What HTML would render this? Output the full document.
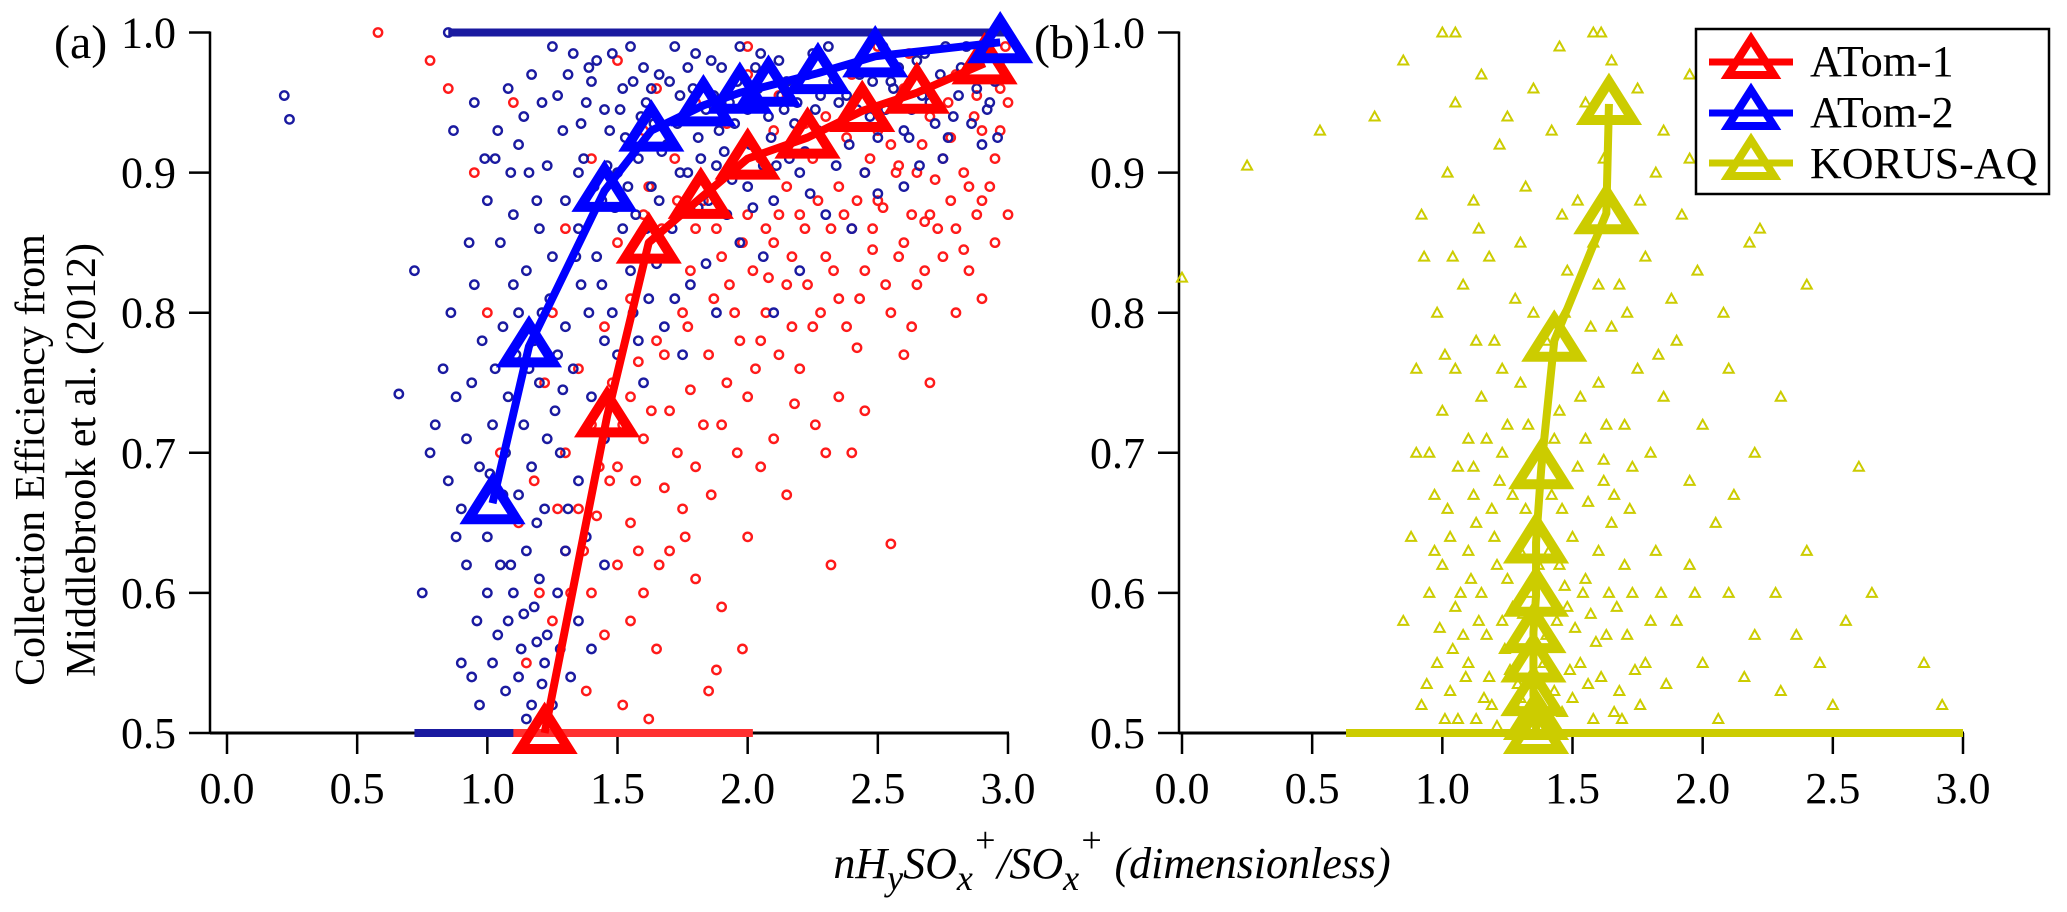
<!DOCTYPE html>
<html><head><meta charset="utf-8"><style>
html,body{margin:0;padding:0;background:#fff;}
svg{display:block;}
text{font-family:"Liberation Serif","DejaVu Serif",serif;fill:#000;}
</style></head><body>
<svg id="chart" width="2067" height="912" viewBox="0 0 2067 912" xmlns="http://www.w3.org/2000/svg" font-family="Liberation Serif, DejaVu Serif, serif">
<g id="pa"></g>
<g id="pb"></g>
<text x="54" y="58" font-size="48" font-family="Liberation Serif, serif">(a)</text>
<text x="1034" y="58" font-size="48" font-family="Liberation Serif, serif">(b)</text>
<g font-family="Liberation Serif, serif">
<text x="31" y="460" font-size="42" text-anchor="middle" dominant-baseline="central" transform="rotate(-90 31 460)">Collection Efficiency from</text>
<text x="82" y="460" font-size="42" text-anchor="middle" dominant-baseline="central" transform="rotate(-90 82 460)">Middlebrook et al. (2012)</text>
</g>
<text x="1112" y="878" font-size="44" font-style="italic" text-anchor="middle" font-family="Liberation Serif, serif">nH<tspan baseline-shift="-12" font-size="36">y</tspan>SO<tspan baseline-shift="-12" font-size="36">x</tspan><tspan baseline-shift="26" font-size="36">+</tspan>/SO<tspan baseline-shift="-12" font-size="36">x</tspan><tspan baseline-shift="26" font-size="36">+</tspan> (dimensionless)</text>
<g font-family="Liberation Serif, serif">
<rect x="1696" y="29" width="353" height="165" fill="#fff" stroke="#000" stroke-width="2.5"/>
<g><line x1="1709" y1="62" x2="1793" y2="62" stroke="#ff0000" stroke-width="7"/><path d="M1751,39 L1774,75 L1728,75 Z" fill="none" stroke="#ff0000" stroke-width="8"/><text x="1810" y="76" font-size="44">ATom-1</text></g>
<g><line x1="1709" y1="113" x2="1793" y2="113" stroke="#0000ff" stroke-width="7"/><path d="M1751,90 L1774,126 L1728,126 Z" fill="none" stroke="#0000ff" stroke-width="8"/><text x="1810" y="127" font-size="44">ATom-2</text></g>
<g><line x1="1709" y1="163" x2="1793" y2="163" stroke="#cccc00" stroke-width="7"/><path d="M1751,140 L1774,176 L1728,176 Z" fill="none" stroke="#cccc00" stroke-width="8"/><text x="1810" y="178" font-size="44">KORUS-AQ</text></g>
</g>
</svg>
<script>
// ---- data ----
const xTicks = [0, 0.5, 1, 1.5, 2, 2.5, 3];
const xTickLabels = ["0.0","0.5","1.0","1.5","2.0","2.5","3.0"];
const yTicks = [0.5, 0.6, 0.7, 0.8, 0.9, 1.0];
const yTickLabels = ["0.5","0.6","0.7","0.8","0.9","1.0"];

const atom1MeanX = [1.22,1.46,1.62,1.82,2.0,2.23,2.44,2.65,2.91];
const atom1MeanY = [0.50,0.726,0.85,0.882,0.91,0.925,0.944,0.957,0.978];
const atom2MeanX = [1.02,1.16,1.45,1.63,1.83,1.97,2.08,2.27,2.49,2.97];
const atom2MeanY = [0.664,0.776,0.887,0.93,0.948,0.957,0.962,0.971,0.983,0.993];
const korusMeanX = [1.36,1.36,1.35,1.35,1.35,1.36,1.36,1.38,1.43,1.63,1.64];
const korusMeanY = [0.50,0.51,0.527,0.551,0.572,0.598,0.636,0.689,0.78,0.871,0.949];

const atom2Points = "1.25,0.99 1.31,0.97 1.38,0.95 1.42,0.98 1.47,0.93 1.52,0.96 1.55,0.99 1.58,0.91 1.61,0.95 1.66,0.97 1.69,0.92 1.72,0.99 1.75,0.94 1.79,0.96 1.82,0.91 1.86,0.98 1.89,0.93 1.93,0.95 1.97,0.99 2.01,0.92 2.04,0.96 2.08,0.94 2.12,0.98 2.16,0.91 2.19,0.95 2.23,0.97 2.27,0.93 2.31,0.99 2.35,0.95 2.39,0.92 2.43,0.97 2.47,0.94 2.52,0.99 2.56,0.96 2.6,0.93 2.65,0.98 2.7,0.95 2.74,0.97 2.79,0.94 2.84,0.99 2.88,0.96 2.93,0.95 2.97,0.98 1.29,0.93 1.35,0.9 1.44,0.88 1.5,0.9 1.57,0.87 1.63,0.89 1.71,0.86 1.77,0.9 1.85,0.88 1.92,0.87 2.0,0.89 2.1,0.88 2.2,0.9 2.3,0.87 2.45,0.9 2.6,0.89 2.75,0.91 2.9,0.92 1.4,0.965 1.48,0.985 1.6,0.975 1.7,0.965 1.8,0.985 1.9,0.975 2.05,0.985 2.15,0.965 2.25,0.985 2.4,0.975 2.55,0.965 2.68,0.985 2.82,0.975 2.95,0.965 1.33,0.985 1.45,0.945 1.53,0.925 1.64,0.935 1.74,0.955 1.84,0.945 1.95,0.935 2.06,0.905 2.14,0.945 2.28,0.955 2.37,0.935 2.5,0.925 2.63,0.945 2.77,0.925 2.9,0.985 1.21,0.95 1.17,0.97 1.12,0.92 1.08,0.96 1.0,0.88 1.05,0.85 1.1,0.87 1.15,0.83 1.2,0.86 1.25,0.84 1.3,0.88 1.12,0.8 1.18,0.78 1.24,0.81 1.3,0.79 1.36,0.82 1.42,0.84 1.48,0.8 1.55,0.83 1.62,0.81 1.7,0.84 1.78,0.82 1.88,0.8 0.95,0.82 0.98,0.78 1.03,0.76 1.08,0.74 1.14,0.72 1.2,0.75 1.26,0.73 1.33,0.76 1.4,0.74 1.5,0.77 1.6,0.75 0.88,0.74 0.92,0.71 0.97,0.69 1.02,0.72 1.07,0.7 1.12,0.67 1.17,0.69 1.22,0.66 1.28,0.7 1.35,0.68 1.45,0.71 0.85,0.68 0.9,0.66 0.8,0.72 0.83,0.76 0.78,0.7 0.86,0.8 0.93,0.85 1.35,0.86 1.45,0.78 1.52,0.86 1.58,0.78 1.68,0.79 1.75,0.77 2.2,0.83 2.4,0.86 2.1,0.8 1.0,0.64 1.05,0.62 1.1,0.6 1.15,0.63 1.2,0.61 1.08,0.58 1.13,0.56 1.18,0.59 1.23,0.57 1.0,0.6 0.96,0.58 1.02,0.55 1.07,0.53 1.12,0.54 1.17,0.52 1.22,0.55 1.27,0.6 1.3,0.63 1.35,0.58 0.92,0.62 0.88,0.64 0.97,0.52 1.15,0.51 1.25,0.52 1.4,0.56 0.75,0.6 0.9,0.55 1.32,0.54 1.38,0.64 1.45,0.62 0.22,0.955 0.24,0.938 0.66,0.742 0.72,0.83 0.85,1.0 0.87,0.93 0.95,0.95 1.03,0.91 1.06,0.67 1.11,0.77 1.16,0.9 1.19,0.65 1.27,0.77 1.31,0.66 1.27,0.955 1.36,0.935 1.39,0.975 1.46,0.905 1.51,0.945 1.56,0.965 1.59,0.94 1.63,0.96 1.67,0.915 1.73,0.935 1.77,0.975 1.81,0.925 1.87,0.955 1.91,0.915 1.96,0.965 2.0,0.945 2.03,0.975 2.09,0.925 2.13,0.955 2.18,0.935 2.22,0.915 2.26,0.945 2.33,0.965 2.38,0.955 2.42,0.945 2.48,0.965 2.53,0.945 2.58,0.975 2.62,0.925 2.67,0.955 2.72,0.935 2.76,0.99 2.81,0.955 2.86,0.935 2.92,0.945 2.96,0.925 1.37,0.91 1.41,0.89 1.49,0.875 1.54,0.89 1.61,0.86 1.66,0.88 1.74,0.9 1.81,0.875 1.88,0.905 1.94,0.895 2.02,0.875 2.11,0.905 2.24,0.885 2.34,0.905 2.5,0.885 2.66,0.905 1.23,0.905 1.19,0.88 1.14,0.94 1.09,0.9 1.04,0.93 0.99,0.91 1.34,0.84 1.39,0.8 1.44,0.82 1.56,0.8 1.65,0.835 1.72,0.81 1.84,0.835 1.97,0.85 2.06,0.84 1.1,0.82 1.06,0.79 1.21,0.8 1.16,0.76 1.29,0.745 1.23,0.71 1.01,0.685 0.94,0.75 1.09,0.62 1.04,0.57 1.14,0.585 1.19,0.565 1.21,0.535 1.28,0.56 0.94,0.54";
const atom1Points = "1.15,0.55 1.2,0.6 1.25,0.58 1.3,0.63 1.35,0.66 1.4,0.6 1.45,0.57 1.5,0.62 1.55,0.65 1.6,0.6 1.65,0.56 1.7,0.63 1.75,0.66 1.8,0.61 1.9,0.59 1.85,0.53 2.0,0.64 2.05,0.69 2.15,0.67 2.3,0.7 2.55,0.635 2.45,0.73 2.7,0.75 1.3,0.7 1.4,0.72 1.5,0.69 1.55,0.74 1.6,0.71 1.7,0.73 1.8,0.69 1.9,0.72 2.0,0.74 2.1,0.71 2.2,0.76 2.35,0.74 2.6,0.77 2.8,0.8 2.9,0.81 1.35,0.76 1.45,0.79 1.55,0.81 1.65,0.78 1.75,0.8 1.85,0.77 1.95,0.8 2.05,0.78 2.15,0.82 2.25,0.79 2.35,0.81 2.45,0.83 2.55,0.8 2.65,0.82 2.75,0.84 2.85,0.83 2.95,0.85 1.5,0.85 1.6,0.87 1.7,0.84 1.8,0.86 1.9,0.84 2.0,0.87 2.1,0.85 2.2,0.87 2.3,0.84 2.4,0.86 2.5,0.88 2.6,0.85 2.7,0.87 2.8,0.86 2.9,0.88 3.0,0.87 1.95,0.9 2.05,0.91 2.15,0.89 2.25,0.91 2.35,0.89 2.45,0.9 2.55,0.92 2.65,0.9 2.75,0.91 2.85,0.89 2.95,0.91 2.1,0.93 2.3,0.94 2.5,0.93 2.7,0.94 2.9,0.93 2.2,0.96 2.4,0.97 2.6,0.96 2.8,0.97 3.0,0.95 2.0,0.97 1.8,0.95 1.6,0.93 1.4,0.91 1.3,0.86 1.25,0.8 1.22,0.75 1.18,0.68 1.12,0.65 1.05,0.7 1.0,0.8 0.95,0.9 0.85,0.96 0.78,0.98 0.58,1.0 1.1,0.95 1.5,0.98 2.0,0.99 2.5,0.99 2.99,0.99 1.65,0.96 2.12,0.955 2.62,0.985 2.88,0.955 1.72,0.91 2.52,0.875 2.72,0.895 2.18,0.735 2.42,0.775 1.98,0.56 2.32,0.62 1.88,0.545 1.52,0.52 1.62,0.51 2.78,0.925 2.58,0.905 2.38,0.925 2.22,0.935 1.92,0.935 2.68,0.865 2.83,0.845 2.48,0.845 2.08,0.825 1.68,0.675 1.78,0.745 1.58,0.765 1.42,0.655 1.47,0.68 1.52,0.72 1.57,0.68 1.63,0.73 1.68,0.77 1.73,0.7 1.77,0.79 1.83,0.72 1.87,0.81 1.92,0.75 1.97,0.78 2.03,0.76 2.07,0.8 2.12,0.77 2.17,0.79 2.23,0.82 2.28,0.8 2.33,0.83 2.38,0.79 2.43,0.81 2.48,0.86 2.53,0.82 2.58,0.84 2.63,0.87 2.68,0.83 2.73,0.86 2.78,0.88 2.83,0.9 2.88,0.87 2.93,0.89 2.97,0.93 1.62,0.89 1.67,0.86 1.73,0.88 1.78,0.83 1.83,0.88 1.88,0.86 1.93,0.82 1.98,0.85 2.02,0.83 2.07,0.86 2.12,0.87 2.17,0.84 2.22,0.86 2.27,0.88 2.32,0.86 2.37,0.87 2.42,0.88 2.47,0.91 2.57,0.9 2.67,0.92 2.77,0.95 2.87,0.94 2.97,0.96 1.37,0.63 1.43,0.69 1.48,0.75 1.58,0.63 1.66,0.62 1.76,0.64 1.86,0.67 1.96,0.7 2.26,0.72 2.4,0.7 2.63,0.79 1.32,0.6 1.27,0.66 1.38,0.53 1.55,0.58";
const korusPoints = "0.92,0.52 0.98,0.55 1.03,0.53 1.08,0.57 1.13,0.51 1.18,0.54 1.23,0.58 1.28,0.52 1.33,0.56 1.43,0.53 1.48,0.59 1.53,0.55 1.58,0.51 1.63,0.57 1.68,0.53 1.73,0.6 1.78,0.55 0.95,0.6 1.0,0.62 1.05,0.59 1.1,0.63 1.15,0.6 1.2,0.64 1.25,0.61 1.3,0.63 1.45,0.62 1.5,0.64 1.55,0.61 1.6,0.63 1.65,0.65 1.7,0.62 0.85,0.58 0.88,0.64 1.02,0.66 1.12,0.67 1.22,0.68 1.32,0.66 1.42,0.67 1.52,0.69 1.62,0.68 1.72,0.66 1.82,0.63 1.9,0.58 1.95,0.62 2.0,0.55 2.1,0.6 2.2,0.57 2.3,0.53 2.45,0.55 2.55,0.58 2.85,0.55 2.92,0.52 2.65,0.6 1.06,0.51 1.16,0.525 1.26,0.545 1.46,0.515 1.56,0.535 1.66,0.515 0.95,0.7 1.0,0.73 1.05,0.76 1.1,0.71 1.15,0.74 1.2,0.78 1.25,0.72 1.3,0.75 1.35,0.8 1.45,0.73 1.5,0.77 1.55,0.71 1.6,0.75 1.65,0.79 1.7,0.72 1.75,0.76 1.8,0.7 1.85,0.74 1.9,0.78 2.0,0.72 2.1,0.76 2.2,0.7 2.3,0.74 0.9,0.76 0.98,0.8 1.08,0.82 1.18,0.84 1.28,0.81 1.48,0.83 1.58,0.85 1.68,0.82 1.78,0.84 1.88,0.81 1.98,0.83 2.08,0.8 2.18,0.85 2.4,0.82 2.6,0.69 0.93,0.84 1.38,0.7 1.12,0.69 1.62,0.695 1.95,0.68 2.05,0.65 0.92,0.87 1.02,0.9 1.12,0.88 1.22,0.92 1.32,0.89 1.42,0.93 1.52,0.88 1.62,0.91 1.72,0.94 1.82,0.9 1.92,0.87 2.02,0.92 2.12,0.89 2.22,0.86 2.32,0.9 1.05,0.95 1.15,0.97 1.25,0.94 1.35,0.96 1.45,0.99 1.55,0.95 1.65,0.98 1.75,0.96 1.85,0.93 1.95,0.97 2.05,0.95 2.25,0.93 1.0,1.0 1.05,1.0 1.58,1.0 1.61,1.0 0.53,0.93 0.25,0.905 0.0,0.825 0.74,0.94 0.85,0.98 1.04,0.56 1.14,0.58 1.24,0.56 1.34,0.6 1.44,0.58 1.54,0.6 1.64,0.6 1.19,0.52 1.29,0.535 1.39,0.55 1.49,0.545 1.59,0.565 1.09,0.54 0.99,0.575 1.21,0.62 1.41,0.63 1.11,0.61 1.31,0.585 1.51,0.575 1.71,0.57 1.76,0.52 1.86,0.535 2.06,0.51 2.16,0.54 2.36,0.57 2.5,0.52 0.94,0.535 0.97,0.63 1.01,0.51 1.07,0.6 1.1,0.55 1.17,0.57 1.21,0.505 1.27,0.59 1.3,0.525 1.37,0.62 1.4,0.57 1.47,0.605 1.5,0.525 1.57,0.585 1.61,0.54 1.67,0.59 1.69,0.51 1.74,0.545 1.8,0.58 1.84,0.6 1.03,0.64 1.13,0.65 1.19,0.66 1.27,0.67 1.36,0.65 1.46,0.66 1.56,0.665 1.66,0.67 1.06,0.69 1.17,0.71 1.23,0.7 1.33,0.72 1.43,0.71 1.53,0.74 1.63,0.72 1.73,0.69 1.01,0.77 1.13,0.78 1.23,0.76 1.4,0.78 1.47,0.8 1.57,0.79 1.71,0.8 1.83,0.77 0.97,0.67 0.9,0.7 1.04,0.84 1.14,0.86 1.3,0.85 1.46,0.87 1.6,0.82 1.76,0.88 1.95,0.91 2.15,0.93 2.28,0.6 2.4,0.63 2.12,0.67 1.97,0.6";

// band ranges [xStart, xEnd] of points piled on the bounds
const atom2BandLowX = [0.72, 1.8];
const atom1BandLowX = [1.1, 2.02];
const atom2BandHighX = [0.85, 3.0];
const korusBandLowX = [0.63, 3.0];

// ---- layout ----
const NS = "http://www.w3.org/2000/svg";
const yTop = 32.5, yBot = 733;
function yS(v){ return yBot - (v - 0.5) / 0.5 * (yBot - yTop); }
function makeX(x0, x3){ return v => x0 + v / 3 * (x3 - x0); }
const xA = makeX(227, 1008), xB = makeX(1182, 1963);

function el(tag, attrs, parent){ const e = document.createElementNS(NS, tag); for (const k in attrs) e.setAttribute(k, attrs[k]); parent.appendChild(e); return e; }
function parsePts(s){ return s.trim().split(/\s+/).map(p => p.split(",").map(Number)); }

function axes(g, xs, axisX, name){
  const ax = el("g", {"font-family": "Liberation Serif, serif"}, g);
  
  
  el("line", {x1: axisX, y1: yTop - 1, x2: axisX, y2: yBot + 1, stroke: "#000", "stroke-width": 2.5}, ax);
  el("line", {x1: axisX, y1: yBot, x2: xs(3) + 1, y2: yBot, stroke: "#000", "stroke-width": 3}, ax);
  yTicks.forEach((v, i) => {
    el("line", {x1: axisX - 21, y1: yS(v), x2: axisX, y2: yS(v), stroke: "#000", "stroke-width": 2.5}, ax);
    const t = el("text", {x: axisX - 34, y: yS(v) + 15, "font-size": 44, "text-anchor": "end"}, ax);
    
    
    t.textContent = yTickLabels[i];
  });
  xTicks.forEach((v, i) => {
    el("line", {x1: xs(v), y1: yBot, x2: xs(v), y2: yBot + 21, stroke: "#000", "stroke-width": 2.5}, ax);
    const t = el("text", {x: xs(v), y: 803, "font-size": 44, "text-anchor": "middle"}, ax);
    
    
    t.textContent = xTickLabels[i];
  });
}

function band(g, xs, range, yv, color, name){
  const b = el("line", {x1: xs(range[0]), y1: yS(yv), x2: xs(range[1]), y2: yS(yv), stroke: color, "stroke-width": 8}, g);
  
  
}

function circles(g, xs, pts, color, name){
  const grp = el("g", {fill: "none", stroke: color, "stroke-width": 2.4}, g);
  
  
  pts.forEach(p => {
    const c = el("circle", {cx: xs(p[0]), cy: yS(p[1]), r: 4.2}, grp);
    
    
  });
}
function smallTris(g, xs, pts, color, name){
  const grp = el("g", {fill: "none", stroke: color, "stroke-width": 2}, g);
  
  
  pts.forEach(p => {
    const x = xs(p[0]), y = yS(p[1]);
    const t = el("path", {d: `M${x},${y-5} L${x+5},${y+4} L${x-5},${y+4} Z`}, grp);
    
    
  });
}
function meanLine(g, xs, X, Y, color, name){
  const grp = el("g", {}, g);
  
  
  const d = X.map((v, i) => (i ? "L" : "M") + xs(v) + "," + yS(Y[i])).join(" ");
  const pl = el("path", {d: d, fill: "none", stroke: color, "stroke-width": 8, "stroke-linejoin": "round"}, grp);
  
  
  X.forEach((v, i) => {
    const x = xs(v), y = yS(Y[i]);
    const m = el("path", {d: `M${x},${y-22} L${x+24},${y+16} L${x-24},${y+16} Z`, fill: "none", stroke: color, "stroke-width": 10, "stroke-linejoin": "miter"}, grp);
    
    
  });
}

const pa = document.getElementById("pa"), pb = document.getElementById("pb");
axes(pa, xA, 210, "panel-a");
axes(pb, xB, 1179, "panel-b");

band(pa, xA, atom2BandHighX, 1.0, "#1a1aa0", "atom-2-band-top");
band(pa, xA, atom2BandLowX, 0.5, "#1a1aa0", "atom-2-band-bottom");
band(pa, xA, atom1BandLowX, 0.5, "#ff3030", "atom-1-band-bottom");
circles(pa, xA, parsePts(atom1Points), "#ff1a1a", "atom-1-scatter");
circles(pa, xA, parsePts(atom2Points), "#1a1aa0", "atom-2-scatter");
meanLine(pa, xA, atom1MeanX, atom1MeanY, "#ff0000", "atom-1-mean");
meanLine(pa, xA, atom2MeanX, atom2MeanY, "#0000ff", "atom-2-mean");

band(pb, xB, korusBandLowX, 0.5, "#cccc00", "korus-aq-band-bottom");
smallTris(pb, xB, parsePts(korusPoints), "#cccc00", "korus-aq-scatter");
meanLine(pb, xB, korusMeanX, korusMeanY, "#cccc00", "korus-aq-mean");
</script>
</body></html>
